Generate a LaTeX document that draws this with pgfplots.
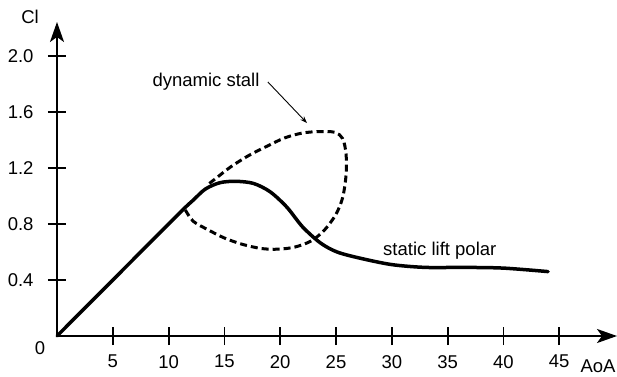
\documentclass[border=0pt]{standalone}
\usepackage{fontspec}
\setmainfont{Liberation Sans}
\usepackage{pgfplots}
\pgfplotsset{compat=1.18}
\usetikzlibrary{arrows.meta}
\begin{document}
\begin{tikzpicture}[x=1bp,y=1bp]
\useasboundingbox (-57,-40) rectangle (560,336);
\begin{axis}[
  at={(0,0)}, anchor=origin,
  x=11.16bp, y=140bp,
  xmin=0, xmax=50.18, ymin=0, ymax=2.243,
  axis lines=middle,
  axis line style={line width=2.2bp, -{Stealth[length=20bp,width=14bp,inset=5bp]}},
  clip=false,
  xtick={5,10,15,20,25,30,35,40,45},
  ytick={0.4,0.8,1.2,1.6,2.0},
  major tick length=18bp, tick align=center,
  tick style={line width=1.8bp, black},
  /pgf/number format/assume math mode=true,
  yticklabel style={/pgf/number format/fixed, /pgf/number format/fixed zerofill,
    /pgf/number format/precision=1, anchor=east, xshift=-11bp},
  ticklabel style={font=\fontsize{18.5bp}{21bp}\selectfont},
  xticklabel style={anchor=north, inner sep=1bp, yshift=-9bp},
]
% static lift polar
\addplot[black, line width=3.5bp, smooth, line cap=round, line join=round] coordinates {
  (0,0) (6,0.48) (11,0.88) (12.2,0.97) (13.3,1.05) (14.6,1.095) (16,1.105)
  (17.6,1.09) (19.1,1.03) (20.6,0.92) (22,0.78) (23.6,0.665) (25.1,0.60)
  (27.2,0.555) (30,0.51) (33,0.49) (36.5,0.49) (40,0.485) (44,0.46)
};
% dynamic stall hysteresis loop
\addplot[black, line width=3bp, dash pattern=on 7bp off 4bp, smooth] coordinates {
  (11.5,0.90) (12.2,0.82) (13.5,0.76) (15,0.70) (16.6,0.655) (18.3,0.625)
  (19.8,0.62) (21.3,0.635) (22.8,0.68) (24,0.76) (25,0.87) (25.6,0.99)
  (25.9,1.15) (25.9,1.30) (25.6,1.41) (24.9,1.455) (23.5,1.46) (22,1.45)
  (20.4,1.415) (18.8,1.355) (17.2,1.29) (15.6,1.21) (14.3,1.13) (13.5,1.08)
};
\draw[-{Stealth[length=7bp,width=5bp]}, line width=0.9bp]
  (axis cs:18.9,1.814) -- (axis cs:22.4,1.521);
\node[font=\fontsize{18.5bp}{21bp}\selectfont] at (axis cs:13.35,1.814) {dynamic stall};
\node[font=\fontsize{18.5bp}{21bp}\selectfont] at (axis cs:34.3,0.607) {static lift polar};
\node[font=\fontsize{18.5bp}{21bp}\selectfont] at (axis cs:0,0) [xshift=-17bp, yshift=-12bp] {0};
\node[font=\fontsize{18.5bp}{21bp}\selectfont] at (axis cs:0,0) [xshift=-27bp, yshift=319bp] {Cl};
\node[font=\fontsize{18.5bp}{21bp}\selectfont, inner sep=1bp] at (axis cs:0,0) [xshift=541bp, yshift=-30bp] {AoA};
\end{axis}
\end{tikzpicture}
\end{document}
